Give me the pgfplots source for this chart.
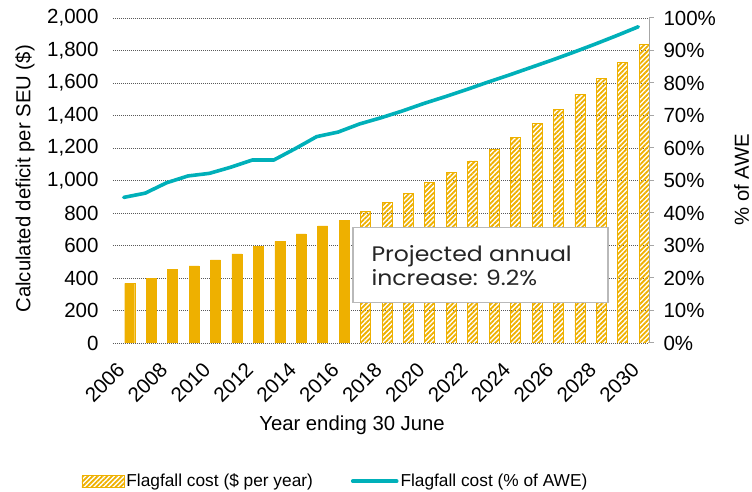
\documentclass[border=0pt]{standalone}
\usepackage{pgfplots}
\pgfplotsset{compat=1.18}
\usepackage{fontspec}
\setmainfont{Liberation Sans}
\newfontfamily\boxfont[FakeStretch=1.12]{Poppins}
\usetikzlibrary{patterns.meta}
\definecolor{gold}{RGB}{238,176,0}
\definecolor{tealline}{RGB}{0,176,185}
\definecolor{gridgray}{RGB}{90,90,90}

% Historical deficit per SEU ($)
\pgfplotstableread{
year value
2006 367
2007 398
2008 453
2009 474
2010 511
2011 548
2012 593
2013 626
2014 671
2015 720
2016 755
}\histtable
% Projected deficit per SEU ($)
\pgfplotstableread{
year value
2017 812
2018 866
2019 923
2020 985
2021 1050
2022 1120
2023 1192
2024 1265
2025 1350
2026 1438
2027 1530
2028 1625
2029 1729
2030 1838
}\projtable
% Flagfall cost as % of AWE
\pgfplotstableread{
year pct
2006 44.8
2007 46.1
2008 49.3
2009 51.4
2010 52.2
2011 54.1
2012 56.3
2013 56.3
2014 59.8
2015 63.5
2016 64.9
2017 67.4
2018 69.3
2019 71.4
2020 73.7
2021 75.8
2022 78.0
2023 80.3
2024 82.5
2025 84.8
2026 87.1
2027 89.5
2028 92.0
2029 94.6
2030 97.3
}\pcttable

\tikzset{projbar/.style={draw=gold, line width=0.9pt,
  pattern={Lines[angle=45,distance=3.4pt,line width=1.8pt]}, pattern color=gold}}
\pgfplotsset{
  barlegend/.style={legend image code/.code={
    \draw[projbar] (0pt,-6pt) rectangle (42pt,6pt);}},
  linelegend/.style={legend image code/.code={
    \draw[##1] (0pt,0pt) -- (44pt,0pt);}},
}

\begin{document}
\begin{tikzpicture}
\pgfplotsset{
  common/.style={
    scale only axis, width=536pt, height=325pt,
    xmin=2005.5, xmax=2030.5,
    /pgf/number format/assume math mode=true,
    tick label style={font=\fontsize{20.5}{24}\selectfont},
    label style={font=\fontsize{20.3}{24}\selectfont},
  }
}
\begin{axis}[common,
  ymin=0, ymax=2000, ytick={0,200,...,2000},
  yticklabel style={xshift=-11pt, /pgf/number format/.cd, 1000 sep={,}},
  xtick={2006,2008,...,2030},
  xticklabels={2006,2008,2010,2012,2014,2016,2018,2020,2022,2024,2026,2028,2030},
  xticklabel style={xshift=-8pt, yshift=-18pt, rotate=45, anchor=north east, inner sep=0pt},
  axis line style={draw=none},
  major tick length=0pt,
  ymajorgrids, grid style={gridgray, line width=0.7pt, dash pattern=on 1pt off 1pt},
  ylabel={Calculated deficit per SEU (\$)},
  ylabel style={at={(axis description cs:-0.164,0.505)}, anchor=center, rotate=0},
  xlabel={Year ending 30 June},
  xlabel style={at={(axis description cs:0.446,-0.252)}, anchor=center},
  ybar, bar width=10pt,
]
\addplot[fill=gold, draw=gold, forget plot] table[x=year, y=value] {\histtable};
\addplot[projbar, forget plot] table[x=year, y=value] {\projtable};
\draw[gray!55, line width=1.6pt, fill=white] (axis cs:2016.7,710) rectangle (axis cs:2028.6,248);
\node[anchor=west, align=left, inner sep=0pt, font=\boxfont\fontsize{21}{24.5}\selectfont, text=black!85]
  at (axis cs:2017.55,476) {Projected annual\\increase: 9.2\%};
\end{axis}
\begin{axis}[common,
  axis x line=none, axis y line*=right,
  ymin=0, ymax=100, ytick={0,10,...,100},
  yticklabel={\pgfmathprintnumber{\tick}\%},
  yticklabel style={xshift=6pt},
  axis line style={draw=gray!70, line width=1pt},
  tick style={draw=gray!70, line width=1pt},
  tick align=outside, major tick length=5pt,
  ylabel={\% of AWE},
  ylabel style={at={(axis description cs:1.173,0.503)}, anchor=center},
  legend columns=2,
  legend style={draw=none, fill=none, at={(0.415,-0.425)}, anchor=center,
    font=\fontsize{17.3}{20}\selectfont,
    /tikz/every even column/.append style={column sep=36pt}},
]
\addlegendimage{barlegend}
\addlegendentry{Flagfall cost (\$ per year)}
\addplot[tealline, line width=3.6pt, line join=round, line cap=round, linelegend]
  table[x=year, y=pct] {\pcttable};
\addlegendentry{Flagfall cost (\% of AWE)}
\end{axis}
\pgfresetboundingbox
\useasboundingbox (-113pt,-149pt) rectangle (639pt,343pt);
\end{tikzpicture}
\end{document}
